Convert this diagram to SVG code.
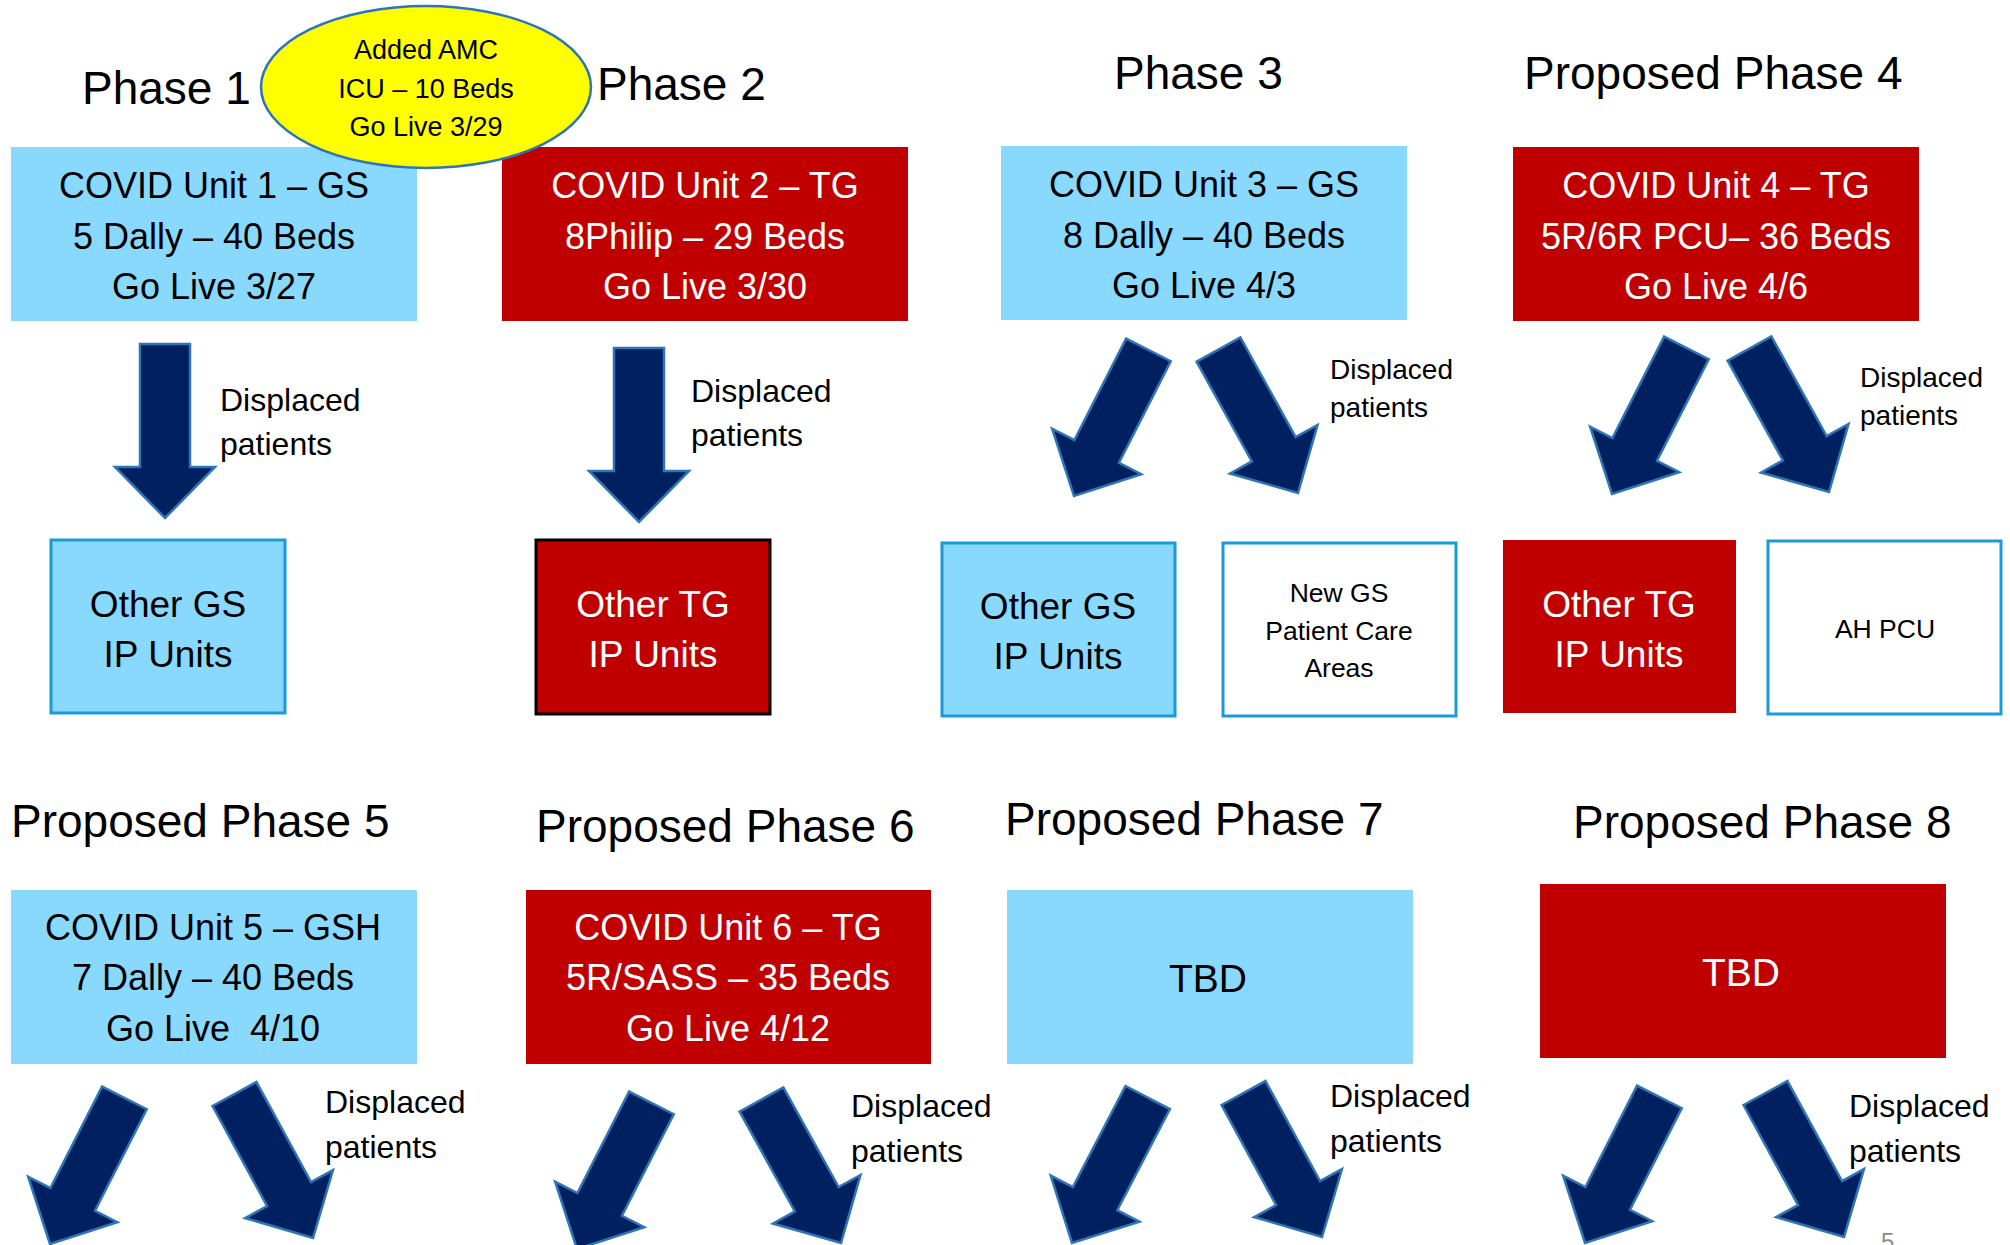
<svg xmlns="http://www.w3.org/2000/svg" xmlns:xlink="http://www.w3.org/1999/xlink" width="2010" height="1245" viewBox="0 0 2010 1245">
<style>
text{font-family:"Liberation Sans",Arial,sans-serif;}
.hdr{font-size:46px;fill:#000;}
.bt{font-size:36px;text-anchor:middle;}
.dk{fill:#000;}
.wt{fill:#fff;}
.lb{fill:#89D9FE;}
.rd{fill:#C00000;}
.ob{stroke:#1A9AD6;stroke-width:3;}
.wb{fill:#fff;stroke:#1A9AD6;stroke-width:3;}
.st{font-size:37px;text-anchor:middle;}
.sm{font-size:26.5px;text-anchor:middle;fill:#000;}
.dp{font-size:32px;fill:#000;}
.dps{font-size:28px;fill:#000;}
.arr{fill:#002060;stroke:#2E75B6;stroke-width:2.5;stroke-linejoin:miter;}
</style>
<defs>
<polygon id="arrV" class="arr" points="-25,-174 25,-174 25,-51 50,-51 0,0 -50,-51 -25,-51"/>
<polygon id="arrD" class="arr" points="-25,-164 25,-164 25,-50 50,-50 0,0 -50,-50 -25,-50"/>
</defs>
<rect width="2010" height="1245" fill="#fff"/>

<g id="headers">
<text class="hdr" x="82" y="104">Phase 1</text>
<text class="hdr" x="597" y="100">Phase 2</text>
<text class="hdr" x="1114" y="89">Phase 3</text>
<text class="hdr" x="1524" y="89">Proposed Phase 4</text>
<text class="hdr" x="11" y="837">Proposed Phase 5</text>
<text class="hdr" x="536" y="842">Proposed Phase 6</text>
<text class="hdr" x="1005" y="835">Proposed Phase 7</text>
<text class="hdr" x="1573" y="838">Proposed Phase 8</text>
</g>

<g id="unit1">
<rect class="lb" x="11" y="147" width="406" height="174"/>
<text class="bt dk" x="214" y="198">COVID Unit 1 – GS</text>
<text class="bt dk" x="214" y="249">5 Dally – 40 Beds</text>
<text class="bt dk" x="214" y="299">Go Live 3/27</text>
</g>
<g id="unit2">
<rect class="rd" x="502" y="147" width="406" height="174"/>
<text class="bt wt" x="705" y="198">COVID Unit 2 – TG</text>
<text class="bt wt" x="705" y="249">8Philip – 29 Beds</text>
<text class="bt wt" x="705" y="299">Go Live 3/30</text>
</g>
<g id="amc">
<ellipse cx="426" cy="87" rx="165" ry="81" fill="#FFFF00" stroke="#2E75B6" stroke-width="2.5"/>
<text x="426" y="59" font-size="27" text-anchor="middle" fill="#000">Added AMC</text>
<text x="426" y="98" font-size="27" text-anchor="middle" fill="#000">ICU – 10 Beds</text>
<text x="426" y="136" font-size="27" text-anchor="middle" fill="#000">Go Live 3/29</text>
</g>
<g id="unit3">
<rect class="lb" x="1001" y="146" width="406" height="174"/>
<text class="bt dk" x="1204" y="197">COVID Unit 3 – GS</text>
<text class="bt dk" x="1204" y="248">8 Dally – 40 Beds</text>
<text class="bt dk" x="1204" y="298">Go Live 4/3</text>
</g>
<g id="unit4">
<rect class="rd" x="1513" y="147" width="406" height="174"/>
<text class="bt wt" x="1716" y="198">COVID Unit 4 – TG</text>
<text class="bt wt" x="1716" y="249">5R/6R PCU– 36 Beds</text>
<text class="bt wt" x="1716" y="299">Go Live 4/6</text>
</g>

<g id="otherGS1">
<rect class="lb ob" x="51" y="540" width="234" height="173"/>
<text class="st dk" x="168" y="617">Other GS</text>
<text class="st dk" x="168" y="667">IP Units</text>
</g>
<g id="otherTG2">
<rect class="rd" x="536" y="540" width="234" height="174" stroke="#000" stroke-width="3"/>
<text class="st wt" x="653" y="617">Other TG</text>
<text class="st wt" x="653" y="667">IP Units</text>
</g>
<g id="otherGS3">
<rect class="lb ob" x="942" y="543" width="233" height="173"/>
<text class="st dk" x="1058" y="619">Other GS</text>
<text class="st dk" x="1058" y="669">IP Units</text>
</g>
<g id="newGS">
<rect class="wb" x="1223" y="543" width="233" height="173"/>
<text class="sm" x="1339" y="602">New GS</text>
<text class="sm" x="1339" y="640">Patient Care</text>
<text class="sm" x="1339" y="677">Areas</text>
</g>
<g id="otherTG4">
<rect class="rd" x="1503" y="540" width="233" height="173"/>
<text class="st wt" x="1619" y="617">Other TG</text>
<text class="st wt" x="1619" y="667">IP Units</text>
</g>
<g id="ahPCU">
<rect class="wb" x="1768" y="541" width="233" height="173"/>
<text class="sm" x="1885" y="638">AH PCU</text>
</g>

<g id="unit5">
<rect class="lb" x="11" y="890" width="406" height="174"/>
<text class="bt dk" x="213" y="940">COVID Unit 5 – GSH</text>
<text class="bt dk" x="213" y="990">7 Dally – 40 Beds</text>
<text class="bt dk" x="213" y="1041" xml:space="preserve">Go Live  4/10</text>
</g>
<g id="unit6">
<rect class="rd" x="526" y="890" width="405" height="174"/>
<text class="bt wt" x="728" y="940">COVID Unit 6 – TG</text>
<text class="bt wt" x="728" y="990">5R/SASS – 35 Beds</text>
<text class="bt wt" x="728" y="1041">Go Live 4/12</text>
</g>
<g id="unit7">
<rect class="lb" x="1007" y="890" width="406" height="174"/>
<text x="1208" y="992" font-size="39" text-anchor="middle" fill="#000">TBD</text>
</g>
<g id="unit8">
<rect class="rd" x="1540" y="884" width="406" height="174"/>
<text x="1741" y="986" font-size="39" text-anchor="middle" fill="#fff">TBD</text>
</g>

<g id="connectors">
<use xlink:href="#arrV" transform="translate(165,518)"/>
<use xlink:href="#arrV" transform="translate(639,522)"/>
<use xlink:href="#arrD" transform="translate(1074,496) rotate(27)"/>
<use xlink:href="#arrD" transform="translate(1298,493) rotate(-29)"/>
<use xlink:href="#arrD" transform="translate(1612,494) rotate(27)"/>
<use xlink:href="#arrD" transform="translate(1829,492) rotate(-29)"/>
<use xlink:href="#arrD" transform="translate(50,1244) rotate(27)"/>
<use xlink:href="#arrD" transform="translate(313,1238) rotate(-28.6)"/>
<use xlink:href="#arrD" transform="translate(577,1249) rotate(27)"/>
<use xlink:href="#arrD" transform="translate(841,1243) rotate(-29)"/>
<use xlink:href="#arrD" transform="translate(1072,1243) rotate(27.5)"/>
<use xlink:href="#arrD" transform="translate(1322,1237) rotate(-28.6)"/>
<use xlink:href="#arrD" transform="translate(1585,1243) rotate(27)"/>
<use xlink:href="#arrD" transform="translate(1844,1237) rotate(-28.6)"/>
</g>

<g id="labels">
<text class="dp" x="220" y="411">Displaced</text>
<text class="dp" x="220" y="455">patients</text>
<text class="dp" x="691" y="402">Displaced</text>
<text class="dp" x="691" y="446">patients</text>
<text class="dps" x="1330" y="379">Displaced</text>
<text class="dps" x="1330" y="417">patients</text>
<text class="dps" x="1860" y="387">Displaced</text>
<text class="dps" x="1860" y="425">patients</text>
<text class="dp" x="325" y="1113">Displaced</text>
<text class="dp" x="325" y="1158">patients</text>
<text class="dp" x="851" y="1117">Displaced</text>
<text class="dp" x="851" y="1162">patients</text>
<text class="dp" x="1330" y="1107">Displaced</text>
<text class="dp" x="1330" y="1152">patients</text>
<text class="dp" x="1849" y="1117">Displaced</text>
<text class="dp" x="1849" y="1162">patients</text>
</g>
<text x="1881" y="1250" font-size="24" fill="#8C8C8C">5</text>
</svg>
